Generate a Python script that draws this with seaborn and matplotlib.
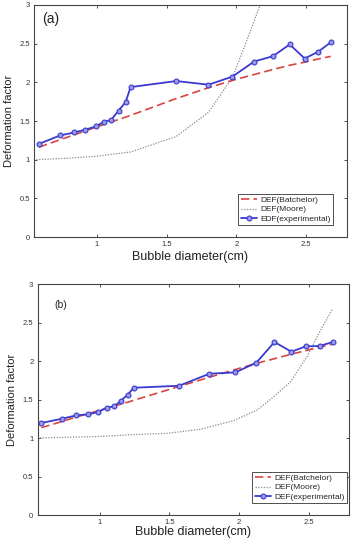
import matplotlib
matplotlib.use("Agg")
import matplotlib.pyplot as plt
import seaborn as sns
import numpy as np

# ---------------- data ----------------
# panel (a)
exp_a_x = [0.588, 0.738, 0.840, 0.919, 0.995, 1.052, 1.104, 1.157, 1.207, 1.243,
           1.569, 1.800, 1.971, 2.126, 2.261, 2.381, 2.488, 2.583, 2.674]
exp_a_y = [1.205, 1.313, 1.352, 1.388, 1.430, 1.491, 1.513, 1.635, 1.743, 1.938,
           2.016, 1.969, 2.073, 2.268, 2.337, 2.489, 2.307, 2.393, 2.515]
bat_a_y = [1.163, 1.258, 1.322, 1.372, 1.420, 1.455, 1.488, 1.520, 1.550, 1.573,
           1.790, 1.930, 2.025, 2.100, 2.165, 2.220, 2.260, 2.300, 2.335]
moore_a_x = [0.55, 0.80, 1.00, 1.243, 1.569, 1.800, 1.971, 2.070, 2.170, 2.260]
moore_a_y = [1.000, 1.020, 1.045, 1.100, 1.300, 1.613, 2.060, 2.520, 3.000, 3.500]

# panel (b)
exp_b_x = [0.580, 0.728, 0.832, 0.916, 0.988, 1.048, 1.103, 1.151, 1.200, 1.243,
           1.569, 1.787, 1.973, 2.124, 2.254, 2.376, 2.479, 2.578, 2.672]
exp_b_y = [1.195, 1.251, 1.295, 1.308, 1.338, 1.394, 1.411, 1.485, 1.563, 1.653,
           1.679, 1.835, 1.853, 1.978, 2.247, 2.121, 2.191, 2.195, 2.247]
bat_b_y = [1.135, 1.215, 1.275, 1.315, 1.355, 1.385, 1.415, 1.440, 1.465, 1.490,
           1.670, 1.790, 1.890, 1.970, 2.030, 2.090, 2.135, 2.180, 2.220]
moore_b_x = [0.55, 1.00, 1.24, 1.48, 1.72, 1.96, 2.129, 2.249, 2.369, 2.489, 2.585, 2.669]
moore_b_y = [1.000, 1.020, 1.045, 1.060, 1.113, 1.225, 1.364, 1.536, 1.730, 2.060, 2.400, 2.670]

x_ticks = [1, 1.5, 2, 2.5]
x_tick_labels = ["1", "1.5", "2", "2.5"]
y_ticks = [0, 0.5, 1, 1.5, 2, 2.5, 3]
y_tick_labels = ["0", "0.5", "1", "1.5", "2", "2.5", "3"]

# ---------------- style ----------------
sns.set_style("ticks")
plt.rcParams['font.family'] = ['Liberation Sans', 'DejaVu Sans']

fig = plt.figure(figsize=(3.54, 5.39), dpi=100)
ax_a = fig.add_axes([0.096, 0.560, 0.884, 0.431])
ax_b = fig.add_axes([0.106, 0.0445, 0.880, 0.4285])

RED = "#d9453f"
BLUE = "#3a3ad0"
GRAY = "#8a8a8a"

def draw(ax, ex, ey, by, mx, my, exp_label, panel, panel_fs, panel_pos,
         leg_anchor, xlabelpad):
    sns.lineplot(x=mx, y=my, ax=ax, color=GRAY, linestyle=(0, (1, 1.2)),
                 linewidth=0.9, label="DEF(Moore)", sort=False)
    sns.lineplot(x=ex, y=by, ax=ax, color=RED, linestyle=(0, (5, 2.5)),
                 linewidth=1.2, label="DEF(Batchelor)", sort=False)
    sns.lineplot(x=ex, y=ey, ax=ax, color=BLUE, linewidth=1.3, marker="o",
                 markersize=3.5, markerfacecolor="#9a9ae8", markeredgecolor=BLUE,
                 markeredgewidth=0.8, label=exp_label, sort=False)
    ax.set_xlim(0.552, 2.79)
    ax.set_ylim(0, 3)
    ax.set_xticks(x_ticks)
    ax.set_xticklabels(x_tick_labels)
    ax.set_yticks(y_ticks)
    ax.set_yticklabels(y_tick_labels)
    ax.tick_params(direction="in", length=2.5, width=0.6, labelsize=5.5,
                   top=True, right=True, colors="#333333", pad=3)
    for s in ax.spines.values():
        s.set_visible(True)
        s.set_linewidth(0.8)
        s.set_color("#444444")
    ax.set_xlabel("Bubble diameter(cm)", fontsize=9, labelpad=xlabelpad, color="#222222")
    ax.set_ylabel("Deformation factor", fontsize=8, labelpad=4, color="#222222")
    ax.text(panel_pos[0], panel_pos[1], panel, transform=ax.transAxes,
            fontsize=panel_fs, va="top", ha="left", color="#222222")
    h, l = ax.get_legend_handles_labels()
    order = [1, 0, 2]
    leg = ax.legend([h[i] for i in order], [l[i] for i in order],
                    loc="lower right", bbox_to_anchor=leg_anchor,
                    fontsize=6, frameon=True, fancybox=False,
                    edgecolor="#333333", framealpha=1, borderpad=0.3,
                    labelspacing=0.15, handlelength=2.0, handletextpad=0.3,
                    borderaxespad=0.0)
    leg.get_frame().set_linewidth(0.6)

draw(ax_a, exp_a_x, exp_a_y, bat_a_y, moore_a_x, moore_a_y,
     "EDF(experimental)", "(a)", 10, (0.025, 0.97), (0.955, 0.052), 2)
draw(ax_b, exp_b_x, exp_b_y, bat_b_y, moore_b_x, moore_b_y,
     "DEF(experimental)", "(b)", 7.5, (0.055, 0.93), (0.993, 0.052), 0)

fig.savefig("out.png", dpi=100)
